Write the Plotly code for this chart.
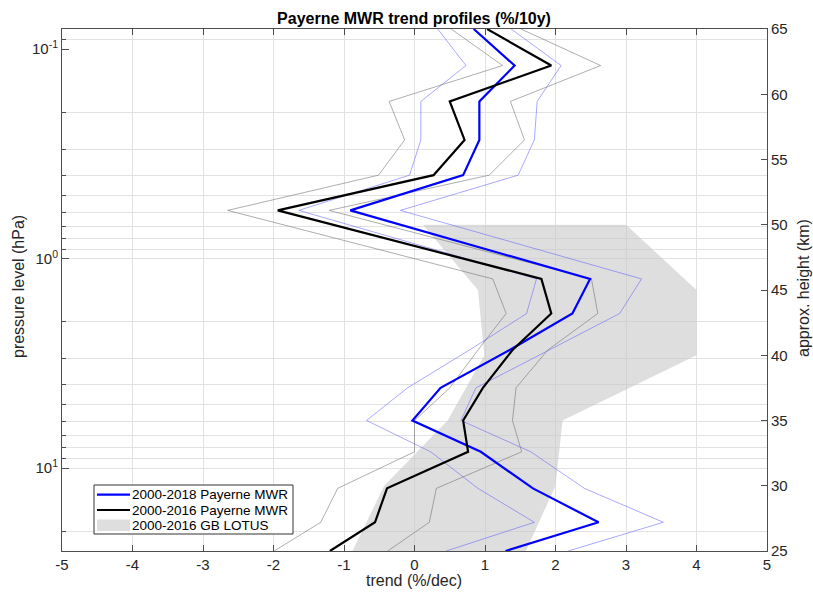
import math
import plotly.graph_objects as go

# ---------------- data ----------------
# MWR profile levels (approx. height, km)
levels_km = [65.0, 62.2, 59.45, 56.5, 53.8, 51.1, 45.85, 43.2, 40.4, 37.5, 35.0, 32.6, 29.8, 27.2, 25.0]

# 2000-2018 Payerne MWR trend (%/dec) and its uncertainty envelope
trend_2018 = [0.84, 1.42, 0.92, 0.92, 0.69, -0.91, 2.49, 2.24, 1.35, 0.37, -0.03, 0.94, 1.68, 2.61, 1.29]
trend_2018_lo = [0.33, 0.73, 0.09, 0.09, -0.07, -1.64, 1.73, 1.59, 0.78, -0.10, -0.68, 0.23, 0.90, 1.70, 0.45]
trend_2018_hi = [1.37, 2.08, 1.74, 1.70, 1.47, -0.20, 3.22, 2.91, 1.91, 0.87, 0.66, 1.65, 2.41, 3.53, 2.18]

# 2000-2016 Payerne MWR trend (%/dec) and its uncertainty envelope
trend_2016 = [1.03, 1.94, 0.50, 0.71, 0.27, -1.94, 1.80, 1.94, 1.39, 0.97, 0.69, 0.76, -0.39, -0.56, -1.20]
trend_2016_lo = [0.52, 1.25, -0.36, -0.14, -0.51, -2.65, 1.11, 1.30, 0.90, 0.50, 0.00, 0.00, -1.09, -1.33, -1.99]
trend_2016_hi = [1.51, 2.64, 1.36, 1.56, 1.06, -1.21, 2.51, 2.60, 1.89, 1.44, 1.39, 1.52, 0.31, 0.21, -0.38]

# 2000-2016 GB LOTUS range
lotus_km = [50, 45, 40, 35, 30, 25]
lotus_lo = [0.12, 0.90, 0.99, 0.47, -0.43, -0.88]
lotus_hi = [3.0, 4.0, 4.0, 2.1, 2.0, 1.58]

# axes
p_range_hpa = [24.9, 0.0801]            # bottom, top of pressure axis
p_major = [0.1, 1, 10]
p_major_text = ["10<sup>-1</sup>", "10<sup>0</sup>", "10<sup>1</sup>"]
p_minor = [0.09, 0.2, 0.3, 0.4, 0.5, 0.6, 0.7, 0.8, 0.9, 1,
           2, 3, 4, 5, 6, 7, 8, 9, 10, 20]
x_ticks = [-5, -4, -3, -2, -1, 0, 1, 2, 3, 4, 5]
x_tick_text = ["-5", "-4", "-3", "-2", "-1", "0", "1", "2", "3", "4", "5"]
height_ticks = [25, 30, 35, 40, 45, 50, 55, 60, 65]

legend_names = ["2000-2018 Payerne MWR", "2000-2016 Payerne MWR", "2000-2016 GB LOTUS"]

# ---------------- figure ----------------
FONT = "Liberation Sans, Arial, Helvetica, sans-serif"
GRID = "#e2e2e2"
AX = "#4d4d4d"
L, R, T, B = 62, 46, 29, 45
W, H = 813, 596
PW, PH = W - L - R, H - T - B


def px(xp):
    return (xp - L) / PW


def py(yp):
    return (H - B - yp) / PH


fig = go.Figure()

# anchor trace for the pressure (left) axis
fig.add_trace(go.Scatter(x=[None], y=[None], yaxis="y", hoverinfo="skip"))

fig.add_trace(go.Scatter(
    x=lotus_lo + lotus_hi[::-1], y=lotus_km + lotus_km[::-1], yaxis="y2",
    fill="toself", fillcolor="rgba(200,200,200,0.6)", line=dict(width=0),
    mode="lines", name=legend_names[2], hoverinfo="skip"))

thin_blue = dict(color="rgba(90,90,255,0.75)", width=0.7)
thin_gray = dict(color="rgba(110,110,110,0.8)", width=0.7)
for xs, ln in [(trend_2018_lo, thin_blue), (trend_2018_hi, thin_blue),
               (trend_2016_lo, thin_gray), (trend_2016_hi, thin_gray)]:
    fig.add_trace(go.Scatter(x=xs, y=levels_km, yaxis="y2", mode="lines", line=ln,
                             hoverinfo="skip"))

fig.add_trace(go.Scatter(x=trend_2018, y=levels_km, yaxis="y2", mode="lines",
                         line=dict(color="#0000ff", width=2.2),
                         name=legend_names[0]))
fig.add_trace(go.Scatter(x=trend_2016, y=levels_km, yaxis="y2", mode="lines",
                         line=dict(color="#000000", width=2.2),
                         name=legend_names[1]))

# ---- compact legend box (drawn as in the original figure) ----
shapes = [dict(type="rect", xref="paper", yref="paper",
               x0=px(94), x1=px(293), y0=py(534), y1=py(485),
               fillcolor="white", line=dict(color="#333333", width=1), layer="above")]
row_y = [494.7, 510.0, 525.3]
shapes.append(dict(type="line", xref="paper", yref="paper", x0=px(97), x1=px(130),
                   y0=py(row_y[0]), y1=py(row_y[0]),
                   line=dict(color="#0000ff", width=2.2), layer="above"))
shapes.append(dict(type="line", xref="paper", yref="paper", x0=px(97), x1=px(130),
                   y0=py(row_y[1]), y1=py(row_y[1]),
                   line=dict(color="#000000", width=2.2), layer="above"))
shapes.append(dict(type="rect", xref="paper", yref="paper", x0=px(97), x1=px(130),
                   y0=py(531), y1=py(519.5), fillcolor="#dedede",
                   line=dict(width=0), layer="above"))
annotations = []
for name, yy in zip(legend_names, row_y):
    annotations.append(dict(text=name, xref="paper", yref="paper", x=px(130), y=py(yy),
                            xanchor="left", yanchor="middle", showarrow=False,
                            font=dict(size=13.5, color="#000000")))

# axis titles
annotations.append(dict(text="trend (%/dec)", xref="paper", yref="paper",
                        x=px(414), y=py(580), xanchor="center", yanchor="middle",
                        showarrow=False, font=dict(size=16, color="#262626")))
annotations.append(dict(text="pressure level (hPa)", xref="paper", yref="paper",
                        x=px(18), y=py(287), xanchor="center", yanchor="middle",
                        textangle=-90, showarrow=False,
                        font=dict(size=16, color="#262626")))
annotations.append(dict(text="approx. height (km)", xref="paper", yref="paper",
                        x=px(803), y=py(288), xanchor="center", yanchor="middle",
                        textangle=-90, showarrow=False,
                        font=dict(size=16, color="#262626")))

fig.update_layout(
    width=W, height=H,
    margin=dict(l=L, r=R, t=T, b=B),
    paper_bgcolor="white", plot_bgcolor="white",
    font=dict(family=FONT, size=15, color="#262626"),
    title=dict(text="<b>Payerne MWR trend profiles (%/10y)</b>",
               x=px(414), xref="paper", xanchor="center",
               y=1 - 18 / H, yanchor="middle",
               font=dict(size=16, color="#000000")),
    showlegend=False,
    shapes=shapes,
    annotations=annotations,
    xaxis=dict(range=[-5, 5], tickvals=x_ticks, ticktext=x_tick_text,
               ticks="inside", ticklen=6, automargin=False,
               tickcolor=AX, showline=True, linecolor=AX, linewidth=1,
               mirror="ticks", showgrid=True, gridcolor=GRID, zeroline=False,
               tickfont=dict(size=15)),
    yaxis=dict(type="log",
               range=[math.log10(p_range_hpa[0]), math.log10(p_range_hpa[1])],
               tickvals=p_major, ticktext=p_major_text,
               ticks="inside", ticklen=7, tickcolor=AX, showline=True,
               linecolor=AX, linewidth=1, showgrid=False,
               zeroline=False, automargin=False,
               minor=dict(tickmode="array", tickvals=p_minor, ticks="inside",
                          ticklen=4, tickcolor=AX, showgrid=True, gridcolor=GRID),
               tickfont=dict(size=15)),
    yaxis2=dict(range=[25, 65], overlaying="y", side="right", anchor="x",
                tickvals=height_ticks, ticks="inside", ticklen=6, tickcolor=AX,
                showline=True, linecolor=AX, linewidth=1, showgrid=False,
                zeroline=False, automargin=False,
                tickfont=dict(size=15)),
)

fig.write_html("out.html", config={"displayModeBar": False},
               post_script="document.body.style.margin='0px';document.body.style.padding='0px';")
